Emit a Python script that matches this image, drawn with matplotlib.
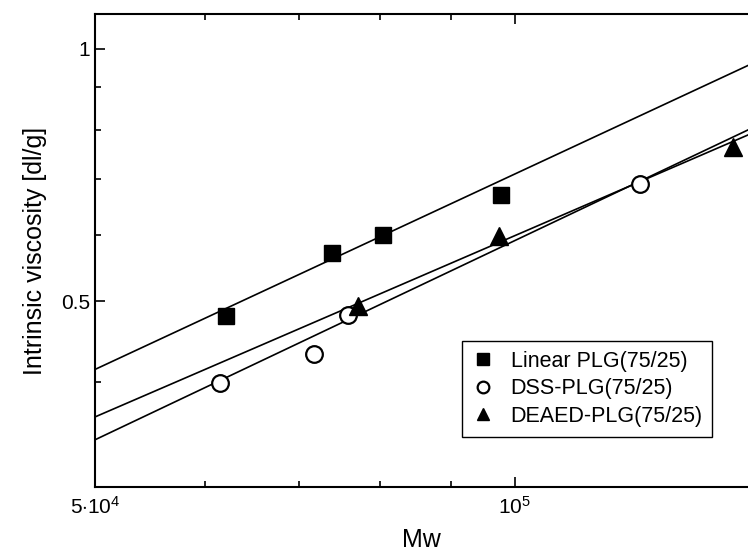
import numpy as np
import matplotlib.pyplot as plt
from matplotlib.ticker import FixedLocator, FixedFormatter, NullFormatter

plt.rcParams['font.family'] = ['Liberation Sans', 'DejaVu Sans']
plt.rcParams['mathtext.fontset'] = 'custom'
plt.rcParams['mathtext.rm'] = 'Liberation Sans'
plt.rcParams['mathtext.it'] = 'Liberation Sans:italic'

# data (Mw, intrinsic viscosity dl/g)
linear_mw = [62100, 74000, 80400, 97700]
linear_iv = [0.480, 0.570, 0.600, 0.670]

dss_mw = [61500, 71800, 75900, 122900]
dss_iv = [0.399, 0.432, 0.481, 0.689]

deaed_mw = [77200, 97400, 143400]
deaed_iv = [0.493, 0.598, 0.764]

labels = ["Linear PLG(75/25)", "DSS-PLG(75/25)", "DEAED-PLG(75/25)"]

# Mark-Houwink lines [eta] = K * Mw^a, as drawn in the figure
mh_k = [9.56e-5, 6.70e-5, 1.538e-4]
mh_a = [0.774, 0.789, 0.718]


fig = plt.figure(figsize=(7.48, 5.58), dpi=100)
ax = fig.add_axes([0.127, 0.127, 0.873, 0.848])
ax.set_xscale('log')
ax.set_yscale('log')
xmin, xmax = 5e4, 1.47e5
ax.set_xlim(xmin, xmax)
ax.set_ylim(0.3, 1.1)

xx = np.logspace(np.log10(xmin), np.log10(xmax), 50)
for k, a in zip(mh_k, mh_a):
    ax.plot(xx, k * xx ** a, color='black', lw=1.2, zorder=2)

ax.plot(linear_mw, linear_iv, 's', color='black', ms=12, ls='none', label=labels[0], zorder=3)
ax.plot(dss_mw, dss_iv, 'o', mfc='white', mec='black', mew=1.6, ms=12, ls='none', label=labels[1], zorder=3)
ax.plot(deaed_mw, deaed_iv, '^', color='black', ms=13, ls='none', label=labels[2], zorder=3)

# ticks
ax.xaxis.set_major_locator(FixedLocator([5e4, 1e5]))
ax.xaxis.set_major_formatter(FixedFormatter([r'$5{\cdot}10^4$', r'$10^5$']))
ax.xaxis.set_minor_locator(FixedLocator([6e4, 7e4, 8e4, 9e4]))
ax.xaxis.set_minor_formatter(NullFormatter())
ax.yaxis.set_major_locator(FixedLocator([0.5, 1.0]))
ax.yaxis.set_major_formatter(FixedFormatter(['0.5', '1']))
ax.yaxis.set_minor_locator(FixedLocator([0.4, 0.6, 0.7, 0.8, 0.9]))
ax.yaxis.set_minor_formatter(NullFormatter())
ax.tick_params(which='both', direction='in', top=True, right=False, width=1.2, labelsize=15)
ax.tick_params(which='major', length=7)
ax.tick_params(which='minor', length=4.5)
ax.tick_params(axis='x', pad=6)
for s in ['left', 'bottom', 'top']:
    ax.spines[s].set_linewidth(1.5)
ax.spines['right'].set_visible(False)

ax.set_xlabel('Mw', fontsize=18, labelpad=8)
ax.set_ylabel('Intrinsic viscosity [dl/g]', fontsize=18, labelpad=10)

leg = ax.legend(loc='lower right', bbox_to_anchor=(0.962, 0.084), fontsize=15.5,
                markerscale=0.7, handlelength=1.0, handletextpad=0.8,
                fancybox=False, edgecolor='black', framealpha=1, borderpad=0.45,
                labelspacing=0.3)
leg.get_frame().set_linewidth(1.0)

fig.savefig('out.png', dpi=100)
